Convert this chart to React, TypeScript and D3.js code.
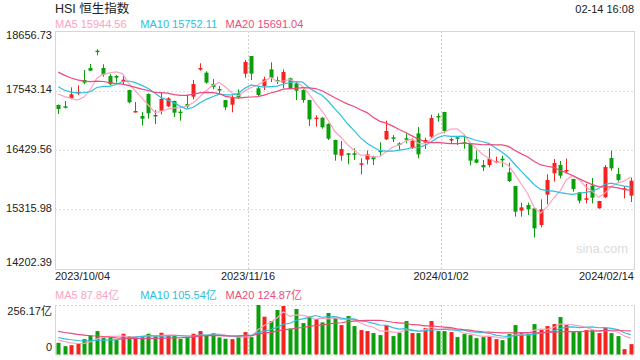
import React from "react";
import * as d3 from "d3";

// ---- data ----
const axisDates = ["2023/10/04", "2023/11/16", "2024/01/02", "2024/02/14"];
const yTicks = [18656.73, 17543.14, 16429.56, 15315.98, 14202.39];
const volTop = 256.17;
const priceLegend = [
  { name: "MA5", value: "15944.56" },
  { name: "MA10", value: "15752.11" },
  { name: "MA20", value: "15691.04" },
];
const volLegend = [
  { name: "MA5", value: "87.84亿" },
  { name: "MA10", value: "105.54亿" },
  { name: "MA20", value: "124.87亿" },
];

const opens = [
  17272, 17247, 17397, 17496, 17740, 17964, 18289, 17964, 17815, 17815,
  17727, 17552, 17147, 17066, 17478, 17085, 17166, 17247, 17347, 17147,
  17290, 17428, 17933, 17877, 17665, 17571, 17365, 17278, 17490, 17858,
  18189, 17584, 17627, 17939, 17740, 17690, 17771, 17677, 17552, 17365,
  17010, 17035, 16916, 16617, 16323, 16367, 16367, 16161, 16249, 16305,
  16417, 16629, 16667, 16554, 16648, 16473, 16741, 16567, 16679, 17066,
  17141, 16623, 16667, 16573, 16554, 16255, 16149, 16149, 16199, 16267,
  16012, 15756, 15294, 15400, 15338, 15026, 15594, 15993, 16149, 16030,
  15887, 15637, 15512, 15762, 15338, 15544, 16280, 15980, 15700, 15575,
];
const highs = [
  17280, 17347, 17602, 17640, 17927, 18039, 18314, 18033, 17852, 17833,
  17827, 17555, 17328, 17141, 17490, 17178, 17503, 17415, 17353, 17191,
  17465, 17740, 18052, 17902, 17758, 17627, 17368, 17453, 17565, 18114,
  18190, 17615, 17802, 18070, 17802, 17939, 17783, 17708, 17565, 17368,
  17078, 17041, 16929, 16620, 16598, 16370, 16461, 16274, 16417, 16323,
  16573, 16979, 16710, 16573, 16741, 16648, 16860, 16660, 17091, 17116,
  17145, 16660, 16679, 16723, 16567, 16417, 16242, 16461, 16305, 16323,
  16192, 15760, 15444, 15444, 15340, 15506, 15974, 16261, 16224, 16267,
  15890, 15640, 15793, 15905, 15478, 16149, 16417, 16099, 15756, 15912,
];
const lows = [
  17103, 17209, 17378, 17459, 17659, 17910, 18201, 17802, 17646, 17690,
  17646, 17303, 17134, 16885, 17016, 16916, 17097, 17234, 17047, 16979,
  17209, 17378, 17914, 17671, 17565, 17478, 17178, 17134, 17390, 17783,
  17740, 17440, 17552, 17702, 17665, 17584, 17565, 17365, 17315, 16879,
  16866, 16829, 16617, 16230, 16230, 16161, 16242, 15974, 16161, 16149,
  16317, 16617, 16579, 16430, 16554, 16448, 16274, 16448, 16642, 16960,
  16741, 16554, 16523, 16454, 16143, 16180, 16036, 16105, 16180, 16111,
  15831, 15182, 15182, 15213, 14789, 14982, 15413, 15837, 15899, 15993,
  15650, 15431, 15431, 15431, 15335, 15537, 16043, 15837, 15525, 15456,
];
const closes = [
  17197, 17222, 17471, 17515, 17690, 17914, 18270, 17839, 17659, 17783,
  17746, 17322, 17159, 17016, 17116, 17066, 17384, 17397, 17128, 17122,
  17247, 17665, 17964, 17690, 17609, 17546, 17228, 17415, 17415, 18077,
  17858, 17459, 17752, 17783, 17721, 17889, 17584, 17540, 17365, 17003,
  17035, 16854, 16642, 16342, 16448, 16348, 16348, 16180, 16348, 16255,
  16405, 16785, 16642, 16523, 16629, 16604, 16348, 16617, 17028, 17041,
  16785, 16635, 16648, 16554, 16230, 16192, 16105, 16267, 16224, 16236,
  15849, 15275, 15356, 15319, 14963, 15319, 15868, 16186, 15949, 16055,
  15700, 15481, 15525, 15537, 15475, 16111, 16086, 15868, 15712, 15855,
];
// turnover, 亿
const volumes = [
  60.6, 43.3, 48.5, 55.4, 79.6, 98.7, 121.2, 86.6, 86.6, 77.9,
  107.3, 95.2, 90.0, 90.0, 107.3, 96.9, 112.5, 96.9, 96.9, 81.4,
  90.0, 107.3, 121.2, 98.7, 110.8, 88.3, 81.4, 79.6, 91.7, 116.0,
  90.0, 256.2, 195.6, 173.1, 230.2, 251.0, 135.0, 235.4, 162.7, 195.6,
  183.5, 166.2, 214.6, 188.7, 152.3, 199.1, 147.1, 126.4, 121.2, 110.8,
  100.4, 152.3, 95.2, 112.5, 173.1, 110.8, 110.8, 136.7, 173.1, 121.2,
  121.2, 116.0, 90.0, 105.6, 100.4, 84.8, 90.0, 95.2, 79.6, 74.4,
  105.6, 152.3, 110.8, 105.6, 157.5, 131.6, 147.1, 157.5, 193.9, 152.3,
  116.0, 121.2, 126.4, 126.4, 110.8, 136.7, 110.8, 95.2, 27.7, 53.7,
];
// sessions before the first visible one (only feed the moving averages)
const priorCloses = [
  18456, 18449, 18202, 18202, 18097, 18026, 18010, 18048, 18182, 17931,
  17900, 17820, 17640, 17650, 17750, 17472, 17631, 17670, 17420,
];
const priorVolumes = [
  165, 140, 158, 150, 172, 145, 138, 160, 142, 150,
  110, 98, 95, 105, 97, 85, 80, 72, 77,
];

// ---- styles ----
const RED = "#f5221d";
const GREEN = "#0c9f0c";
const MA_COLORS = ["#fba3c0", "#2cc0e0", "#ec4b7c"];
const FONT = "'Liberation Sans', Arial, 'Noto Sans CJK SC', sans-serif";
const MA_PERIODS = [5, 10, 20];

function movingAvg(prior: number[], vals: number[], n: number): number[] {
  const all = prior.concat(vals);
  const off = prior.length;
  return vals.map((_, i) => {
    const end = off + i + 1;
    const slice = all.slice(Math.max(0, end - n), end);
    return d3.mean(slice) as number;
  });
}

export default function App() {
  const W = 640,
    H = 360;
  const left = 55,
    right = 634;
  const mTop = 31,
    mBot = 269;
  const vTop = 305,
    vBot = 354.5;
  const n = closes.length;

  const x = d3
    .scaleBand<number>()
    .domain(d3.range(n))
    .range([left, right])
    .paddingInner(0)
    .paddingOuter(0);
  const cx = (i: number) => (x(i) as number) + x.bandwidth() / 2;
  const bodyW = 4;

  const y = d3
    .scaleLinear()
    .domain([yTicks[yTicks.length - 1], yTicks[0]])
    .range([mBot, mTop]);
  const yv = d3.scaleLinear().domain([0, volTop]).range([vBot, vTop]);

  const priceMAs = MA_PERIODS.map((p) => movingAvg(priorCloses, closes, p));
  const volMAs = MA_PERIODS.map((p) => movingAvg(priorVolumes, volumes, p));

  const priceLine = d3
    .line<number>()
    .x((_, i) => cx(i))
    .y((d) => y(d));
  const volLine = d3
    .line<number>()
    .x((_, i) => cx(i))
    .y((d) => yv(d));

  const gx1 = left + (right - left) / 3;
  const gx2 = left + ((right - left) * 2) / 3;

  const isUp = (i: number) => closes[i] >= opens[i];

  const tickY = (i: number) => {
    const v = y(yTicks[i]);
    if (i === 0) return v + 5;
    if (i === yTicks.length - 1) return v - 6;
    return v;
  };

  return (
    <svg
      width={W}
      height={H}
      style={{ position: "absolute", left: 0, top: 0, background: "#fff" }}
      fontFamily={FONT}
    >
      <rect x={0} y={0} width={W} height={H} fill="#fff" />
      {/* header */}
      <text x={55} y={10} dominantBaseline="middle" fontSize={12.5} fill="#222">
        HSI 恒生指数
      </text>
      <text x={634} y={10} dominantBaseline="middle" textAnchor="end" fontSize={11} fill="#222">
        02-14 16:08
      </text>
      {priceLegend.map((d, i) => (
        <text
          key={d.name}
          x={55 + i * 85.3}
          y={25}
          dominantBaseline="middle"
          fontSize={11}
          fill={MA_COLORS[i]}
        >
          {d.name} {d.value}
        </text>
      ))}

      {/* main grid */}
      {yTicks.slice(1, -1).map((t) => (
        <line
          key={t}
          x1={left}
          x2={right}
          y1={Math.round(y(t)) + 0.5}
          y2={Math.round(y(t)) + 0.5}
          stroke="#dddddd"
          strokeDasharray="2,2"
        />
      ))}
      {[gx1, gx2].map((gx) => (
        <g key={gx}>
          <line x1={Math.round(gx) + 0.5} x2={Math.round(gx) + 0.5} y1={mTop} y2={mBot} stroke="#d0d0d0" strokeDasharray="2,2" />
          <line x1={Math.round(gx) + 0.5} x2={Math.round(gx) + 0.5} y1={vTop} y2={vBot} stroke="#d0d0d0" strokeDasharray="2,2" />
        </g>
      ))}
      <rect
        x={left + 0.5}
        y={mTop + 0.5}
        width={right - left}
        height={mBot - mTop}
        fill="none"
        stroke="#d6d6d6"
      />
      <text x={602} y={250} textAnchor="middle" dominantBaseline="middle" fontSize={13} fill="#dcdcdc">
        sina.com
      </text>

      {/* y labels */}
      {yTicks.map((t, i) => (
        <text
          key={t}
          x={52}
          y={tickY(i)}
          textAnchor="end"
          dominantBaseline="middle"
          fontSize={11}
          fill="#222"
        >
          {t.toFixed(2)}
        </text>
      ))}

      {/* candles */}
      {closes.map((c, i) => {
        const col = isUp(i) ? RED : GREEN;
        const xc = Math.round(cx(i)) + 0.5;
        const top = y(Math.max(opens[i], c));
        const bot = y(Math.min(opens[i], c));
        return (
          <g key={i}>
            <line x1={xc} x2={xc} y1={y(highs[i])} y2={y(lows[i])} stroke={col} strokeWidth={1} />
            <rect
              x={xc - bodyW / 2}
              y={top}
              width={bodyW}
              height={Math.max(1.5, bot - top)}
              fill={col}
            />
          </g>
        );
      })}

      {/* price MAs */}
      {priceMAs.map((ma, k) => (
        <path key={k} d={priceLine(ma) || ""} fill="none" stroke={MA_COLORS[k]} strokeWidth={1.2} />
      ))}

      {/* x labels */}
      {axisDates.map((d, i) => {
        const xs = [left, gx1, gx2, right];
        const anchors = ["start", "middle", "middle", "end"];
        return (
          <text
            key={d}
            x={xs[i]}
            y={277}
            textAnchor={anchors[i]}
            dominantBaseline="middle"
            fontSize={11}
            fill="#222"
          >
            {d}
          </text>
        );
      })}

      {/* volume legend */}
      {volLegend.map((d, i) => (
        <text
          key={d.name}
          x={55 + i * 85.3}
          y={296}
          dominantBaseline="middle"
          fontSize={11}
          fill={MA_COLORS[i]}
        >
          {d.name} {d.value}
        </text>
      ))}

      {/* volume frame */}
      <line x1={left + 0.5} x2={left + 0.5} y1={vTop} y2={vBot} stroke="#d6d6d6" />
      <line x1={right + 0.5} x2={right + 0.5} y1={vTop} y2={vBot} stroke="#d6d6d6" />
      <line x1={left} x2={right} y1={vTop + 0.5} y2={vTop + 0.5} stroke="#d6d6d6" strokeDasharray="2,2" />
      <line x1={left} x2={right} y1={vBot + 0.5} y2={vBot + 0.5} stroke="#d6d6d6" strokeDasharray="2,2" />
      <text x={52} y={312} textAnchor="end" dominantBaseline="middle" fontSize={11} fill="#222">
        {volTop.toFixed(2)}亿
      </text>
      <text x={52} y={348} textAnchor="end" dominantBaseline="middle" fontSize={11} fill="#222">
        0
      </text>

      {/* volume bars */}
      {volumes.map((v, i) => {
        const xc = Math.round(cx(i)) + 0.5;
        return (
          <rect
            key={i}
            x={xc - bodyW / 2}
            y={yv(v)}
            width={bodyW}
            height={vBot - yv(v)}
            fill={isUp(i) ? RED : GREEN}
          />
        );
      })}
      {volMAs.map((ma, k) => (
        <path key={k} d={volLine(ma) || ""} fill="none" stroke={MA_COLORS[k]} strokeWidth={1.2} />
      ))}
    </svg>
  );
}
